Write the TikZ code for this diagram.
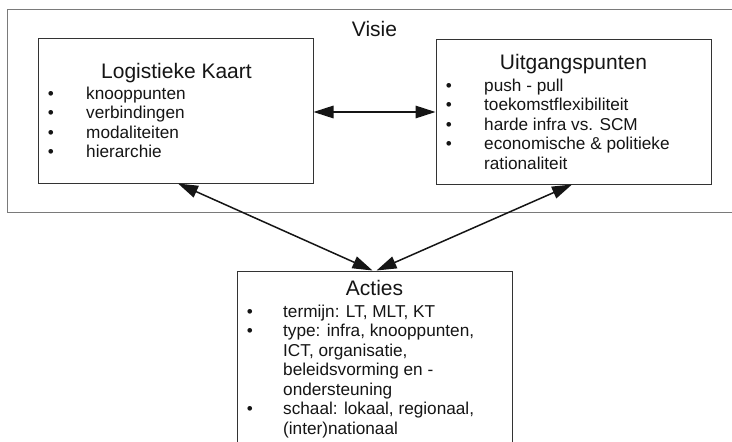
\documentclass[tikz,border=0pt]{standalone}
\usepackage{fontspec}
\setmainfont{Liberation Sans}
\usetikzlibrary{arrows.meta}
\definecolor{ink}{HTML}{151515}
\definecolor{frame}{HTML}{333333}
\definecolor{outerframe}{HTML}{7A7A7A}
\tikzset{
  box/.style={draw=frame, line width=1pt, inner sep=0pt, fill=white},
  title/.style={anchor=base, inner sep=0pt, text=ink, font=\fontsize{21}{25}\selectfont},
  item/.style={anchor=base west, inner sep=0pt, text=ink, font=\fontsize{17.2}{19.5}\selectfont},
  dot/.style={anchor=base, inner sep=0pt, text=ink, font=\fontsize{17.2}{19.5}\selectfont},
  link/.style={draw=ink, line width=1.5pt, {Triangle[length=20pt,width=12.5pt]}-{Triangle[length=20pt,width=12.5pt]}}
}
\begin{document}
\begin{tikzpicture}[x=1pt,y=-1pt]
\useasboundingbox (0,0) rectangle (732,442);
\clip (0,0) rectangle (732,442);
\fill[white] (0,0) rectangle (732,442);

% outer frame of the vision block
\node[draw=outerframe, line width=0.8pt, inner sep=0pt, minimum width=740pt, minimum height=203pt] (vis) at (377,110.5) {};
\node[title] (vistitle) at (374.5,36) {Visie};

% the three content boxes
\node[box, minimum width=275pt, minimum height=145pt] (lk) at (175.5,110.5) {};
\node[box, minimum width=275pt, minimum height=145pt] (up) at (573.5,111.5) {};
\node[box, minimum width=275pt, minimum height=190pt] (ac) at (374.5,366) {};

% Logistieke Kaart
\node[title] (lkt) at (176.5,78) {Logistieke Kaart};
\foreach \y/\t [count=\i] in {99/knooppunten,118.5/verbindingen,138/modaliteiten,157.5/hierarchie}{
  \node[dot] (lkd\i) at (51,\y) {•};
  \node[item] (lki\i) at (86,\y) {\t};
}

% Uitgangspunten
\node[title] (upt) at (573.5,69) {Uitgangspunten};
\foreach \y/\t [count=\i] in {91/push - pull,110.5/toekomstflexibiliteit,130/harde infra vs. SCM,149.5/economische \& politieke}{
  \node[dot] (upd\i) at (449,\y) {•};
  \node[item] (upi\i) at (484,\y) {\t};
}
\node[item] (upi5) at (484,169) {rationaliteit};

% Acties
\node[title] (act) at (374.5,295) {Acties};
\node[dot] (acd1) at (250,317) {•};
\node[item] (aci1) at (283,317) {termijn: LT, MLT, KT};
\node[dot] (acd2) at (250,336.5) {•};
\node[item] (aci2) at (283,336.5) {type: infra, knooppunten,};
\node[item] (aci3) at (283,356) {ICT, organisatie,};
\node[item] (aci4) at (283,375.5) {beleidsvorming en -};
\node[item] (aci5) at (283,395) {ondersteuning};
\node[dot] (acd3) at (250,414.5) {•};
\node[item] (aci6) at (283,414.5) {schaal: lokaal, regionaal,};
\node[item] (aci7) at (283,434) {(inter)nationaal};

% connectors
\draw[link] ([yshift=-1.5pt]lk.east) -- ([yshift=-0.5pt]up.west);
\draw[link] ([xshift=2.5pt]lk.south) -- ([xshift=-2pt]ac.north);
\draw[link] ([xshift=-1.5pt]up.south) -- ([xshift=2pt]ac.north);
\end{tikzpicture}
\end{document}
